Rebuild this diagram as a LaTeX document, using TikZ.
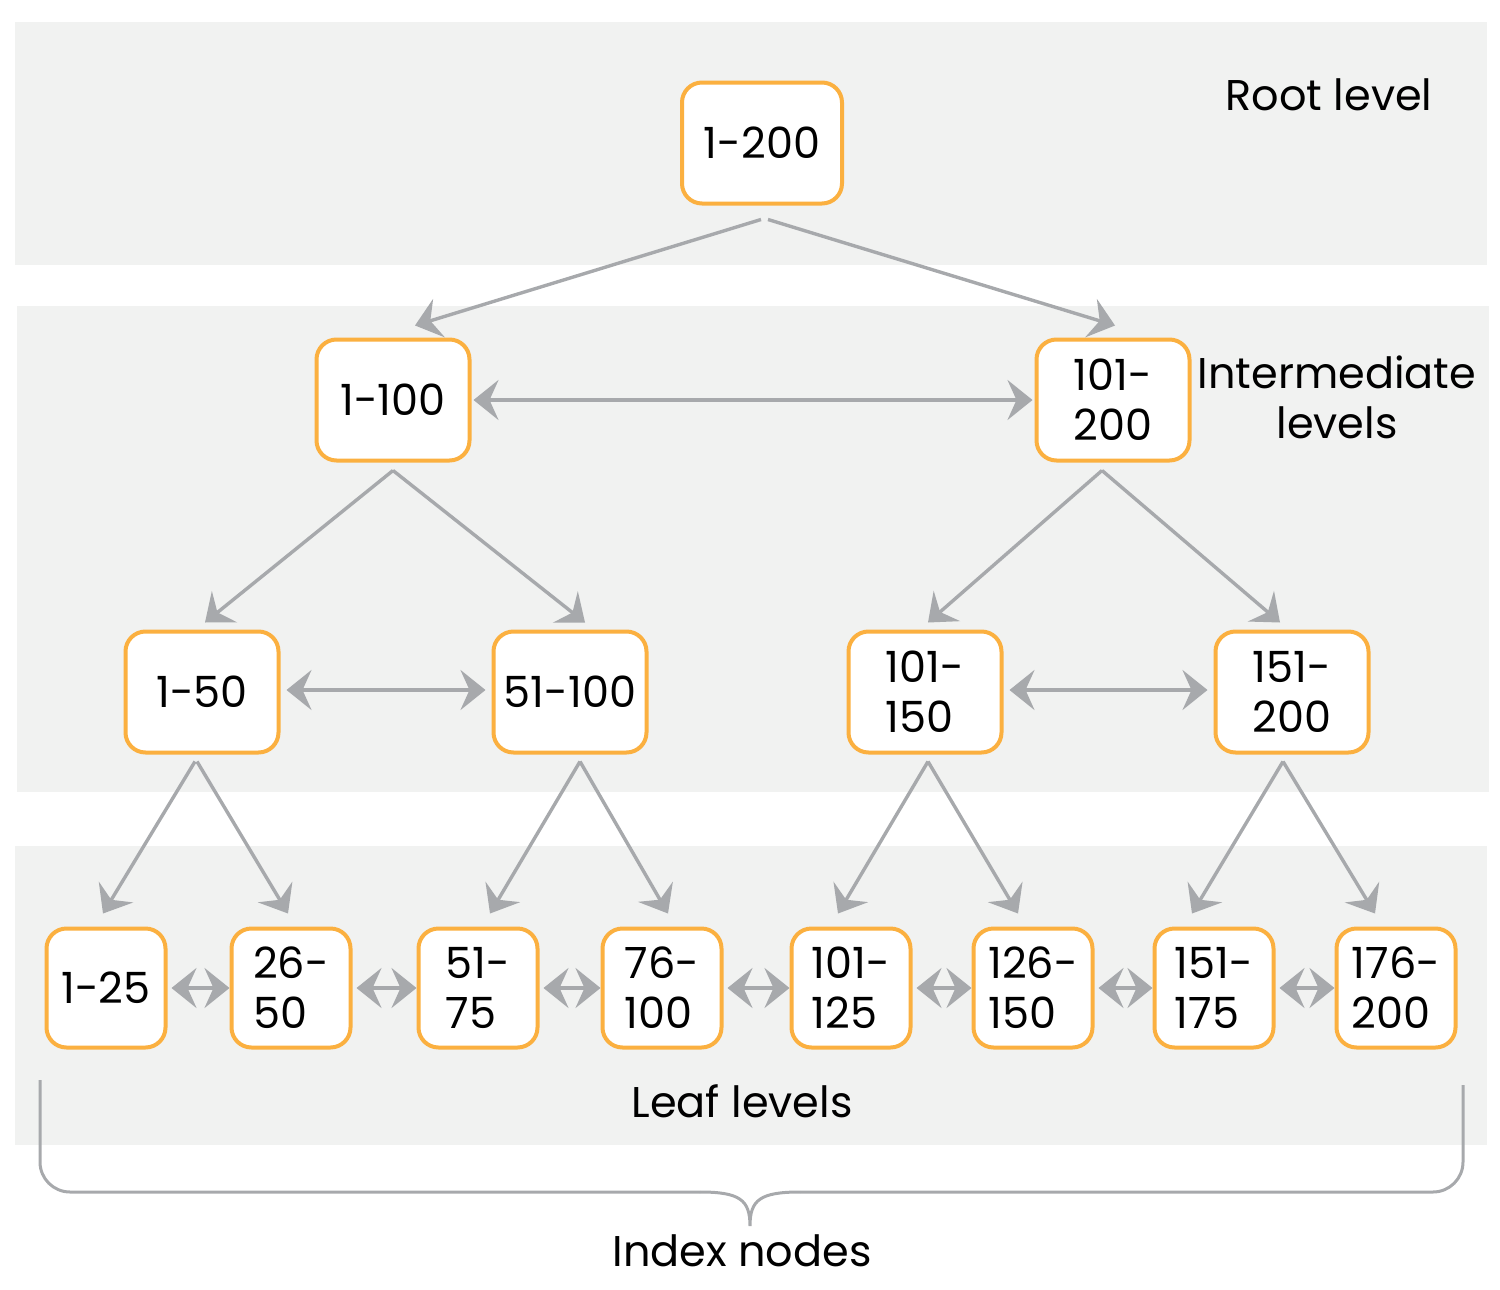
\documentclass[tikz,border=0pt]{standalone}
\usepackage{fontspec}
\setmainfont{Poppins}
\usetikzlibrary{arrows.meta}
\definecolor{band}{HTML}{F1F2F1}
\definecolor{boxline}{HTML}{FBB040}
\definecolor{linkgray}{HTML}{A7A9AC}
\tikzset{
	idx/.style={draw=boxline,line width=2pt,fill=white,rounded corners=10pt,minimum width=76.5pt,minimum height=60.5pt,align=left,inner sep=0pt,font=\fontsize{21.5}{25}\selectfont},
	leaf/.style={idx,minimum width=59.5pt,minimum height=59.5pt},
	lbl/.style={align=center,inner sep=0pt,font=\fontsize{21.5}{25}\selectfont},
	link/.style={draw=linkgray,line width=1.7pt,-{Stealth[length=12.5pt,width=20pt,inset=4.5pt]}},
	both/.style={link,{Stealth[length=12.5pt,width=20pt,inset=4.5pt]}-{Stealth[length=12.5pt,width=20pt,inset=4.5pt]}}
}
\begin{document}
\begin{tikzpicture}[x=0.5pt,y=-0.5pt]
		\useasboundingbox (0,0) rectangle (1500,1290);
		\fill[band] (15,22) rectangle (1487,265);
		\fill[band] (17,306) rectangle (1489,792);
		\fill[band] (15,846) rectangle (1487,1145);
		
		\node[lbl] (rootlbl) at (1329,95) {Root level};
		\node[lbl] (midlbl) at (1337,397) {Intermediate\\levels};
		\node[lbl] (leaflbl) at (742,1101) {Leaf levels};
		\node[lbl] (idxlbl) at (742,1251) {Index nodes};
		
		\node[idx,minimum width=80pt] (root) at (762,143) {1-200};
		\node[idx] (ma) at (393,400) {1-100};
		\node[idx] (mb) at (1113,400) {101-\\200};
		\node[idx] (la) at (202,692) {1-50};
		\node[idx] (lb) at (570,692) {51-100};
		\node[idx] (lc) at (925,692) {101-\\150};
		\node[idx] (ld) at (1292,692) {151-\\200};
		\node[leaf] (fa) at (106,988) {1-25};
		\node[leaf] (fb) at (291,988) {26-\\50};
		\node[leaf] (fc) at (478,988) {51-\\75};
		\node[leaf] (fd) at (662,988) {76-\\100};
		\node[leaf] (fe) at (851,988) {101-\\125};
		\node[leaf] (ff) at (1033,988) {126-\\150};
		\node[leaf] (fg) at (1214,988) {151-\\175};
		\node[leaf] (fh) at (1396,988) {176-\\200};
		
		\draw[link] ([xshift=-0.5pt,yshift=-7pt]root.south)--([xshift=11pt,yshift=6pt]ma.north);
		\draw[link] ([xshift=3pt,yshift=-7pt]root.south)--([xshift=1pt,yshift=6pt]mb.north);
		\draw[link] ([yshift=-4pt]ma.south)--([xshift=1.5pt,yshift=3.5pt]la.north);
		\draw[link] ([yshift=-4pt]ma.south)--([xshift=7.5pt,yshift=3.5pt]lb.north);
		\draw[link] ([xshift=-5.5pt,yshift=-4pt]mb.south)--([xshift=1.5pt,yshift=3.5pt]lc.north);
		\draw[link] ([xshift=-5.5pt,yshift=-4pt]mb.south)--([xshift=-6pt,yshift=3.5pt]ld.north);
		\draw[link] ([xshift=-3.5pt,yshift=-3.5pt]la.south)--([xshift=-1.5pt,yshift=6.5pt]fa.north);
		\draw[link] ([xshift=-2.5pt,yshift=-3.5pt]la.south)--([xshift=-1.5pt,yshift=6.5pt]fb.north);
		\draw[link] ([xshift=5pt,yshift=-3.5pt]lb.south)--([xshift=6pt,yshift=6.5pt]fc.north);
		\draw[link] ([xshift=5pt,yshift=-3.5pt]lb.south)--([xshift=3pt,yshift=6.5pt]fd.north);
		\draw[link] ([xshift=1.5pt,yshift=-3.5pt]lc.south)--([xshift=-6.5pt,yshift=6.5pt]fe.north);
		\draw[link] ([xshift=1.5pt,yshift=-3.5pt]lc.south)--([xshift=-7.5pt,yshift=6.5pt]ff.north);
		\draw[link] ([xshift=-4.5pt,yshift=-3.5pt]ld.south)--([xshift=-11pt,yshift=6.5pt]fg.north);
		\draw[link] ([xshift=-4.5pt,yshift=-3.5pt]ld.south)--([xshift=-10.5pt,yshift=6.5pt]fh.north);
		
		\draw[both,shorten <=1pt,shorten >=1pt] (ma.east)--(mb.west);
		\draw[both,shorten <=3pt,shorten >=3pt] ([yshift=1pt]la.east)--([yshift=1pt]lb.west);
		\draw[both,shorten <=3pt,shorten >=3pt] ([yshift=1pt]lc.east)--([yshift=1pt]ld.west);
		\foreach \a/\b in {fa/fb,fb/fc,fc/fd,fd/fe,fe/ff,ff/fg,fg/fh}
			\draw[both,shorten <=2pt] (\a.east)--(\b.west);
		
		\draw[draw=linkgray,line width=1.5pt,rounded corners=15pt] (40,1080)--(40,1192)--(700,1192);
		\draw[draw=linkgray,line width=1.5pt,rounded corners=15pt] (1463,1085)--(1463,1192)--(800,1192);
		\draw[draw=linkgray,line width=1.5pt] (700,1192) .. controls (740,1192) and (750,1200) .. (750,1226) .. controls (750,1200) and (760,1192) .. (800,1192);
	\end{tikzpicture}
\end{document}
